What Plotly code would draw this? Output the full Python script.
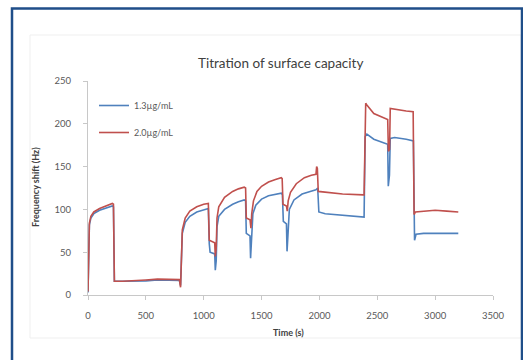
import plotly.graph_objects as go

# ---- data ----
series_names = ["1.3\u00b5g/mL", "2.0\u00b5g/mL"]

t_blue = [0, 5, 12, 25, 50, 100, 150, 210, 220, 228, 300, 400, 500, 600, 700, 790,
          800, 805, 815, 840, 880, 940, 1000, 1040, 1048, 1055, 1095, 1100, 1108,
          1115, 1130, 1180, 1250, 1300, 1350, 1362, 1368, 1400, 1405, 1412, 1425,
          1450, 1500, 1560, 1620, 1670, 1680, 1688, 1715, 1720, 1728, 1740, 1780,
          1850, 1920, 1970, 1985, 1995, 2050, 2200, 2380, 2386, 2395, 2410, 2470,
          2550, 2590, 2595, 2605, 2612, 2650, 2750, 2812, 2822, 2835, 2900, 3000,
          3100, 3200]
v_blue = [3, 60, 82, 90, 95, 99, 101, 104, 103, 16, 16, 16, 16.5, 17.5, 17.5, 17,
          11, 40, 72, 85, 92, 97, 99, 101, 60, 50, 48, 29, 40,
          80, 92, 100, 106, 109, 111, 110, 72, 69, 43, 60, 95,
          105, 112, 116, 118, 119, 117, 86, 83, 51, 70, 100, 111,
          118, 121, 123, 125, 97, 95, 93, 91, 91, 185, 188, 182,
          178, 176, 127, 140, 183, 184, 182, 180, 64, 71, 72, 72,
          72, 72]

t_red = [0, 5, 12, 25, 50, 100, 150, 210, 220, 228, 300, 400, 500, 600, 700, 790,
         800, 805, 815, 840, 880, 940, 1000, 1040, 1048, 1095, 1100, 1108,
         1115, 1130, 1180, 1250, 1300, 1350, 1362, 1368, 1400, 1408, 1415, 1430,
         1460, 1500, 1560, 1620, 1670, 1678, 1685, 1715, 1722, 1730, 1750, 1800,
         1870, 1930, 1970, 1976, 1982, 1990, 2050, 2200, 2380, 2386, 2400, 2410,
         2470, 2550, 2590, 2596, 2606, 2612, 2650, 2750, 2810, 2818, 2830, 2900,
         3000, 3100, 3200]
v_red = [4, 62, 84, 92, 97, 101, 104, 107, 106, 16, 16, 16.5, 17.5, 18.5, 18.5, 18,
         9, 42, 76, 90, 98, 103, 106, 107, 64, 61, 45, 55,
         90, 103, 114, 121, 124, 126, 125, 90, 88, 78, 95, 110,
         121, 127, 132, 135, 137, 136, 106, 104, 98, 110, 120, 130,
         137, 140, 141, 150, 148, 121, 120, 118, 117, 117, 224, 222,
         212, 207, 205, 168, 170, 218, 217, 215, 214, 94, 97, 98,
         99, 98, 97]

x_ticks = [0, 500, 1000, 1500, 2000, 2500, 3000, 3500]
y_ticks = [0, 50, 100, 150, 200, 250]

title_text = "Titration of surface capacity"
x_title = "Time (s)"
y_title = "Frequency shift (Hz)"

# ---- figure ----
W, H = 523, 360
L, R, T, B = 88, 30, 81, 65
pw, ph = W - L - R, H - T - B


def px_x(p):
    return (p - L) / pw


def px_y(p):
    return (H - B - p) / ph


FONT = "Lato, 'Open Sans', sans-serif"
TXT = "#595959"

fig = go.Figure()
fig.add_trace(go.Scatter(x=t_blue, y=v_blue, mode="lines", name=series_names[0],
                         legendgroup="a",
                         line=dict(color="#4F81BD", width=1.6)))
fig.add_trace(go.Scatter(x=t_red, y=v_red, mode="lines", name=series_names[1],
                         legendgroup="b",
                         line=dict(color="#C0504D", width=1.6)))

fig.update_layout(
    width=W, height=H,
    margin=dict(l=L, r=R, t=T, b=B),
    paper_bgcolor="white", plot_bgcolor="white",
    font=dict(family=FONT, size=9, color=TXT),
    showlegend=True,
    legend=dict(x=px_x(94), y=px_y(91), xanchor="left", yanchor="top",
                bgcolor="rgba(0,0,0,0)", font=dict(size=9, color=TXT),
                tracegroupgap=8, traceorder="grouped"),
    xaxis=dict(range=[0, 3500], tickvals=x_ticks, showgrid=False, zeroline=False,
               showline=True, linecolor="#c8c8c8", linewidth=1,
               ticks="outside", ticklen=4, tickcolor="#c8c8c8",
               ticklabelstandoff=8, tickfont=dict(size=9.5, color=TXT)),
    yaxis=dict(range=[0, 250], tickvals=y_ticks, showgrid=False, zeroline=False,
               showline=True, linecolor="#c8c8c8", linewidth=1,
               ticks="outside", ticklen=4, tickcolor="#c8c8c8",
               ticklabelstandoff=10, tickfont=dict(size=9.5, color=TXT)),
    annotations=[
        dict(text=title_text, x=px_x(280), y=px_y(63), xref="paper", yref="paper",
             xanchor="center", yanchor="middle", showarrow=False,
             font=dict(size=13.5, color="#404040", family=FONT)),
        dict(text="<b>" + y_title + "</b>", x=px_x(35), y=px_y(187), xref="paper",
             yref="paper", xanchor="center", yanchor="middle", showarrow=False,
             textangle=-90, font=dict(size=9, color="#404040", family=FONT)),
        dict(text="<b>" + x_title + "</b>", x=px_x(288), y=px_y(332), xref="paper",
             yref="paper", xanchor="center", yanchor="middle", showarrow=False,
             font=dict(size=9, color="#404040", family=FONT)),
    ],
    shapes=[
        dict(type="rect", xref="paper", yref="paper",
             x0=px_x(30), x1=px_x(521), y0=px_y(338), y1=px_y(35),
             line=dict(color="#efefef", width=1), layer="below"),
        dict(type="rect", xref="paper", yref="paper",
             x0=px_x(12), x1=px_x(522), y0=px_y(375), y1=px_y(8.5),
             line=dict(color="#1F4E89", width=2.5)),
    ],
)

fig.write_html("out.html",
               config={"displayModeBar": False},
               post_script="document.body.style.margin='0';"
                           "document.body.style.overflow='hidden';")
